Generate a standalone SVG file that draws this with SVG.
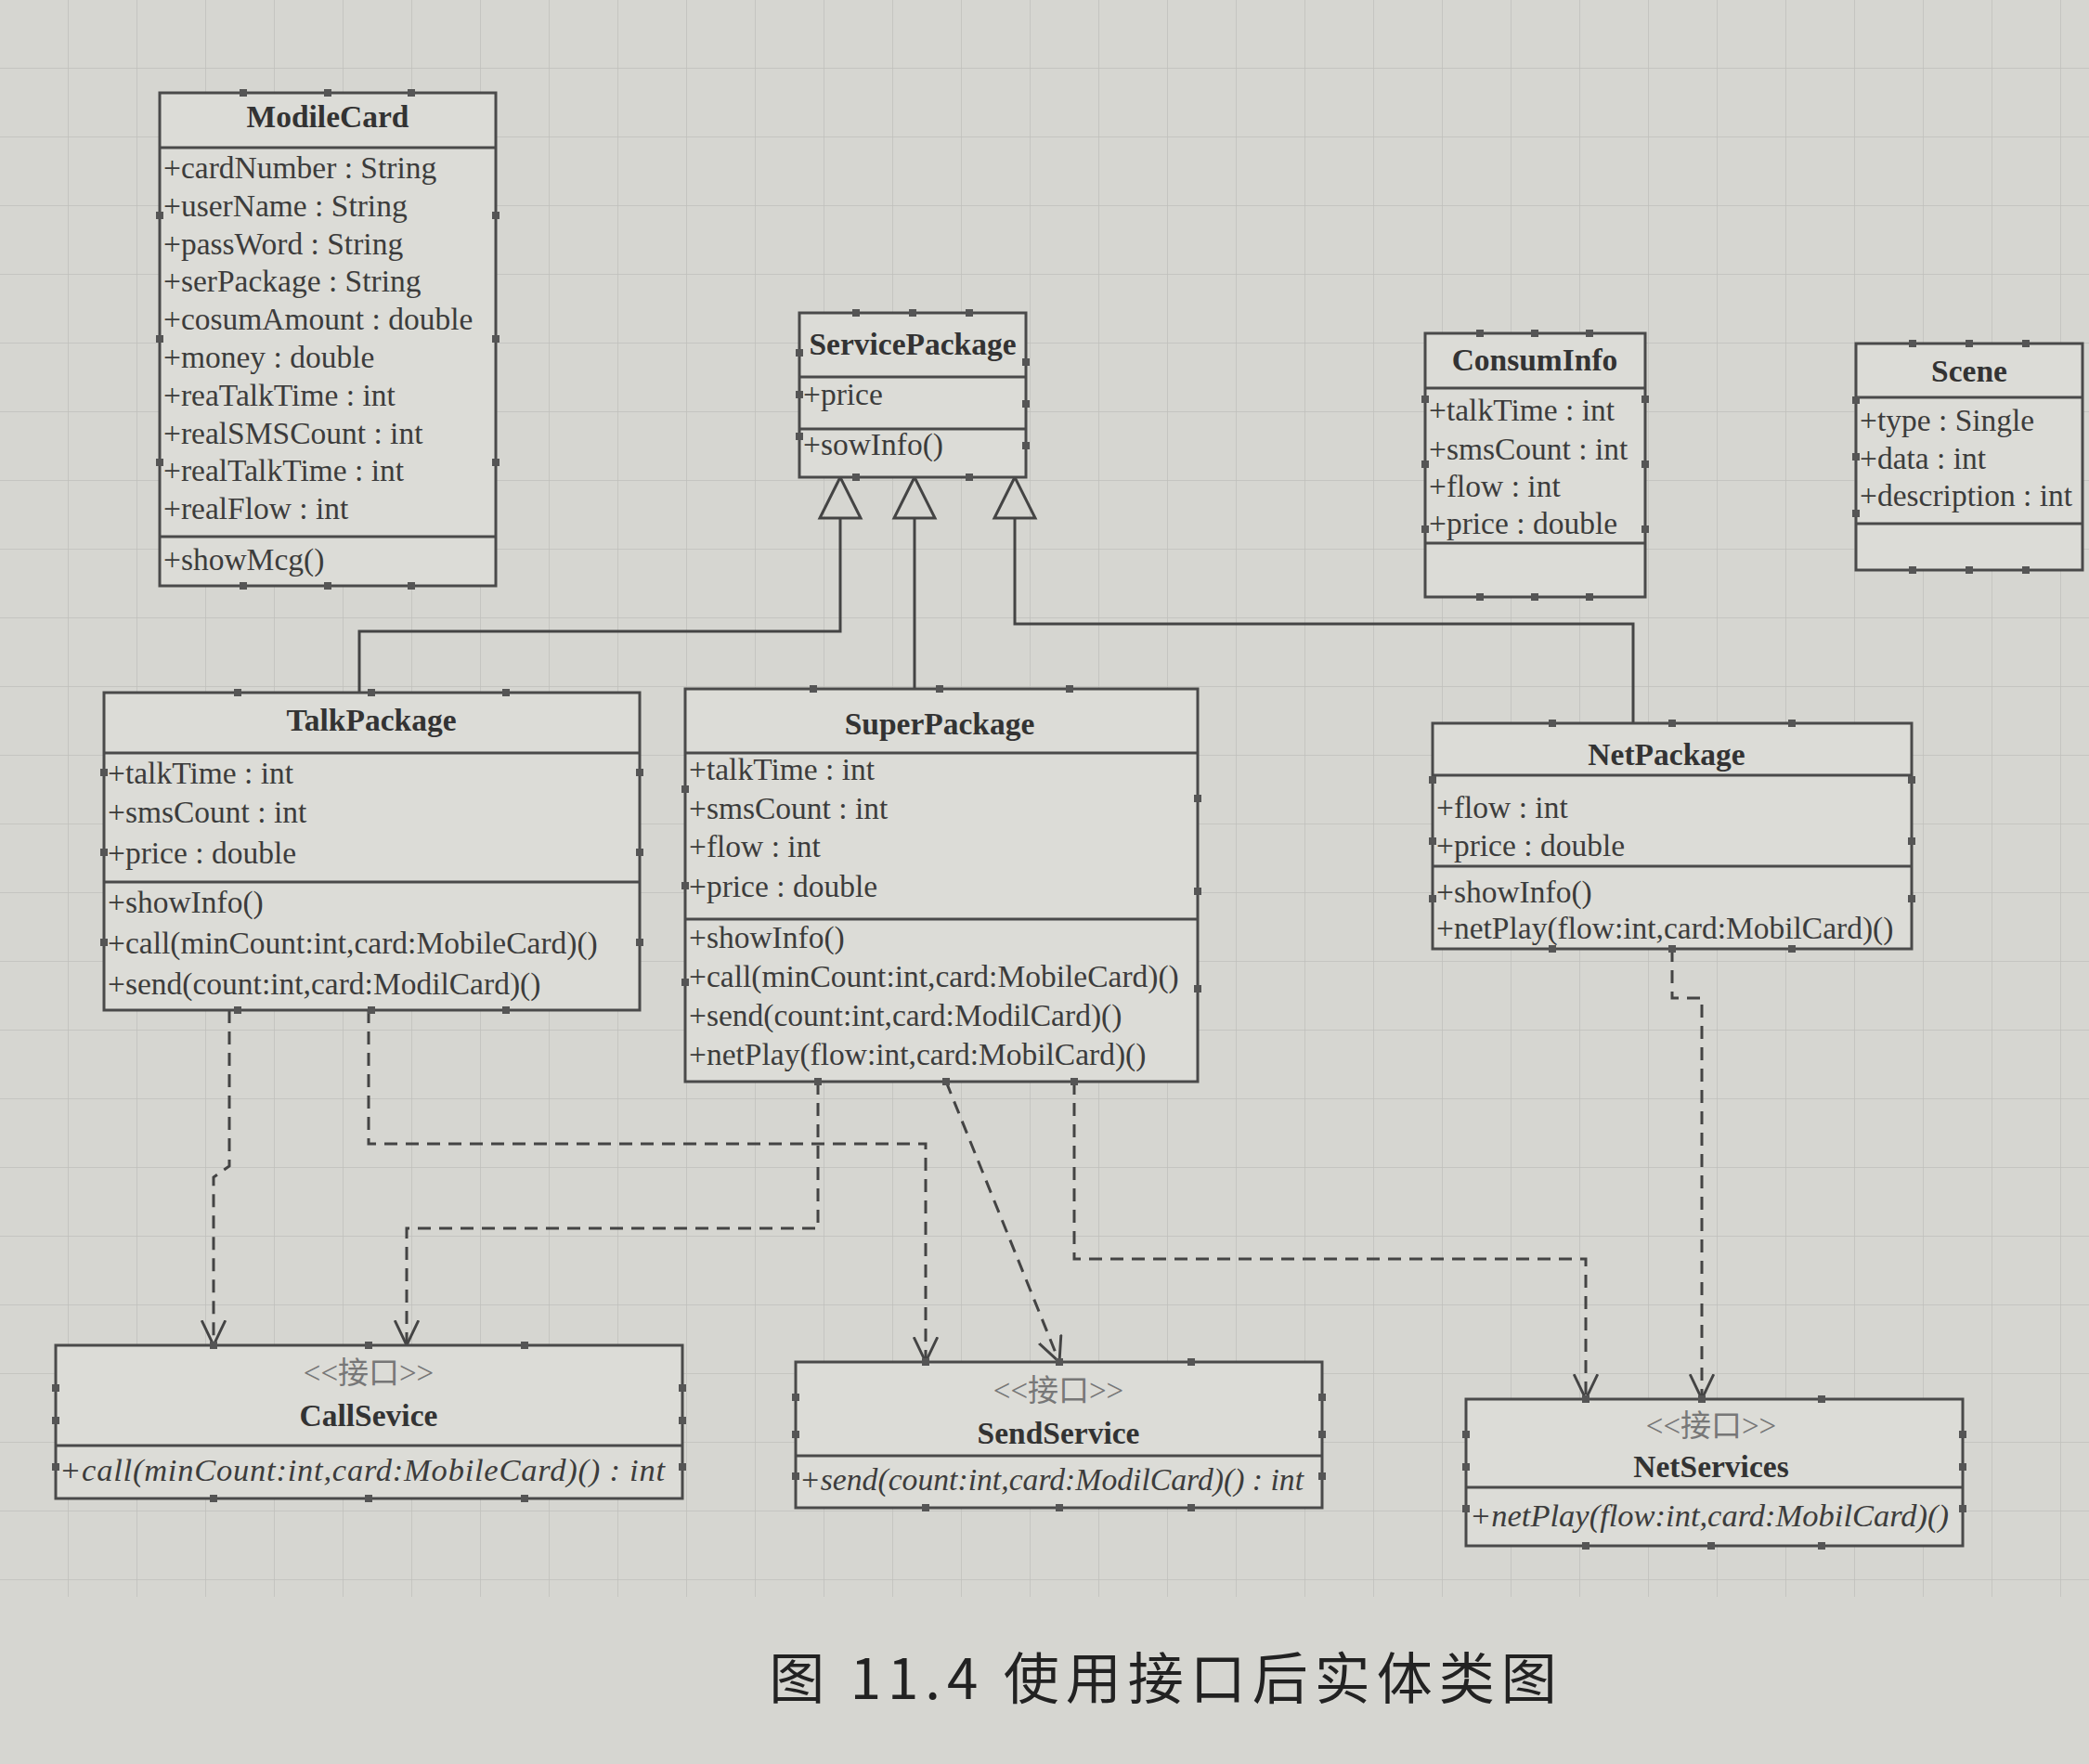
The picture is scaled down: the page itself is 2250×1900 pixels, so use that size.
<svg xmlns="http://www.w3.org/2000/svg" xmlns:xlink="http://www.w3.org/1999/xlink" width="2250" height="1900" viewBox="0 0 2250 1900">
<style>
.box{fill:#dcdcd7;stroke:#4a4a4a;stroke-width:3}
.sep{stroke:#4a4a4a;stroke-width:3}
.t{font-family:"Liberation Serif","Times New Roman",serif;font-size:33.5px;fill:#3c3c3c}
.b{font-family:"Liberation Serif","Times New Roman",serif;font-size:33.5px;font-weight:bold;fill:#333;text-anchor:middle}
.i{font-family:"Liberation Serif","Times New Roman",serif;font-size:34.5px;font-style:italic;fill:#3c3c3c}
.st{font-family:"Liberation Serif","Noto Sans CJK SC",serif;font-size:33px;fill:#777;text-anchor:middle}
.gen{fill:none;stroke:#444;stroke-width:3}
.dep{fill:none;stroke:#444;stroke-width:3;stroke-dasharray:14 9}
.cap{font-family:"Noto Sans CJK SC","Liberation Serif",serif;font-size:60px;letter-spacing:7px;fill:#222;text-anchor:middle}
</style>
<defs>
<pattern id="grid" width="74" height="74" patternUnits="userSpaceOnUse">
<path d="M74,0 V74 M0,74 H74" fill="none" stroke="#c0c0bb" stroke-width="1.5"/>
</pattern>
<marker id="open" viewBox="0 0 24 24" refX="23" refY="12" markerWidth="28" markerHeight="28" markerUnits="userSpaceOnUse" orient="auto">
<path d="M0,1 L23,12 L0,23" fill="none" stroke="#444" stroke-width="2.5"/>
</marker>
<rect id="h" x="-4" y="-4" width="8" height="8" fill="#555"/>
</defs>
<rect width="2250" height="1900" fill="#d6d6d1"/>
<rect width="2250" height="1720" fill="url(#grid)"/>

<g id="connectors">
<path class="gen" d="M905,558 V680 H387 V746"/>
<path class="gen" d="M985,558 V742"/>
<path class="gen" d="M1093,558 V672 H1759 V779"/>
<polygon class="gen" fill="#dcdcd7" points="905,514 883,558 927,558"/>
<polygon class="gen" fill="#dcdcd7" points="985,514 963,558 1007,558"/>
<polygon class="gen" fill="#dcdcd7" points="1093,514 1071,558 1115,558"/>
<path class="dep" d="M247,1088 V1256 L230,1268 V1449" marker-end="url(#open)"/>
<path class="dep" d="M397,1088 V1232 H997 V1467" marker-end="url(#open)"/>
<path class="dep" d="M881,1165 V1323 H438 V1449" marker-end="url(#open)"/>
<path class="dep" d="M1019,1165 L1141,1467" marker-end="url(#open)"/>
<path class="dep" d="M1157,1165 V1356 H1708 V1507" marker-end="url(#open)"/>
<path class="dep" d="M1801,1022 V1075 H1833 V1507" marker-end="url(#open)"/>
</g>

<g id="ModileCard">
<rect class="box" x="172" y="100" width="362" height="531"/>
<line class="sep" x1="172" y1="159" x2="534" y2="159"/>
<line class="sep" x1="172" y1="578" x2="534" y2="578"/>
<text class="b" x="353" y="137">ModileCard</text>
<text class="t" x="176" y="192">+cardNumber : String</text>
<text class="t" x="176" y="233">+userName : String</text>
<text class="t" x="176" y="274">+passWord : String</text>
<text class="t" x="176" y="314">+serPackage : String</text>
<text class="t" x="176" y="355">+cosumAmount : double</text>
<text class="t" x="176" y="396">+money : double</text>
<text class="t" x="176" y="437">+reaTalkTime : int</text>
<text class="t" x="176" y="478">+realSMSCount : int</text>
<text class="t" x="176" y="518">+realTalkTime : int</text>
<text class="t" x="176" y="559">+realFlow : int</text>
<text class="t" x="176" y="614">+showMcg()</text>
<use href="#h" x="262" y="100"/><use href="#h" x="353" y="100"/><use href="#h" x="443" y="100"/>
<use href="#h" x="262" y="631"/><use href="#h" x="353" y="631"/><use href="#h" x="443" y="631"/>
<use href="#h" x="172" y="232"/><use href="#h" x="172" y="365"/><use href="#h" x="172" y="498"/>
<use href="#h" x="534" y="232"/><use href="#h" x="534" y="365"/><use href="#h" x="534" y="498"/>
</g>

<g id="ServicePackage">
<rect class="box" x="861" y="337" width="244" height="177"/>
<line class="sep" x1="861" y1="406" x2="1105" y2="406"/>
<line class="sep" x1="861" y1="462" x2="1105" y2="462"/>
<text class="b" x="983" y="382">ServicePackage</text>
<text class="t" x="865" y="436">+price</text>
<text class="t" x="865" y="490">+sowInfo()</text>
<use href="#h" x="922" y="337"/><use href="#h" x="983" y="337"/><use href="#h" x="1044" y="337"/>
<use href="#h" x="922" y="514"/><use href="#h" x="1044" y="514"/>
<use href="#h" x="861" y="380"/><use href="#h" x="861" y="425"/><use href="#h" x="861" y="470"/>
<use href="#h" x="1105" y="390"/><use href="#h" x="1105" y="435"/><use href="#h" x="1105" y="480"/>
</g>

<g id="ConsumInfo">
<rect class="box" x="1535" y="359" width="237" height="284"/>
<line class="sep" x1="1535" y1="418" x2="1772" y2="418"/>
<line class="sep" x1="1535" y1="585" x2="1772" y2="585"/>
<text class="b" x="1653" y="399">ConsumInfo</text>
<text class="t" x="1539" y="453">+talkTime : int</text>
<text class="t" x="1539" y="495">+smsCount : int</text>
<text class="t" x="1539" y="535">+flow : int</text>
<text class="t" x="1539" y="575">+price : double</text>
<use href="#h" x="1594" y="359"/><use href="#h" x="1653" y="359"/><use href="#h" x="1712" y="359"/>
<use href="#h" x="1594" y="643"/><use href="#h" x="1653" y="643"/><use href="#h" x="1712" y="643"/>
<use href="#h" x="1535" y="430"/><use href="#h" x="1535" y="500"/><use href="#h" x="1535" y="570"/>
<use href="#h" x="1772" y="430"/><use href="#h" x="1772" y="500"/><use href="#h" x="1772" y="570"/>
</g>

<g id="Scene">
<rect class="box" x="1999" y="370" width="244" height="244"/>
<line class="sep" x1="1999" y1="428" x2="2243" y2="428"/>
<line class="sep" x1="1999" y1="564" x2="2243" y2="564"/>
<text class="b" x="2121" y="411">Scene</text>
<text class="t" x="2003" y="464">+type : Single</text>
<text class="t" x="2003" y="505">+data : int</text>
<text class="t" x="2003" y="545">+description : int</text>
<use href="#h" x="2060" y="370"/><use href="#h" x="2121" y="370"/><use href="#h" x="2182" y="370"/>
<use href="#h" x="2060" y="614"/><use href="#h" x="2121" y="614"/><use href="#h" x="2182" y="614"/>
<use href="#h" x="1999" y="431"/><use href="#h" x="1999" y="492"/><use href="#h" x="1999" y="553"/>
</g>

<g id="TalkPackage">
<rect class="box" x="112" y="746" width="577" height="342"/>
<line class="sep" x1="112" y1="811" x2="689" y2="811"/>
<line class="sep" x1="112" y1="950" x2="689" y2="950"/>
<text class="b" x="400" y="787">TalkPackage</text>
<text class="t" x="116" y="844">+talkTime : int</text>
<text class="t" x="116" y="886">+smsCount : int</text>
<text class="t" x="116" y="930">+price : double</text>
<text class="t" x="116" y="983">+showInfo()</text>
<text class="t" x="116" y="1027">+call(minCount:int,card:MobileCard)()</text>
<text class="t" x="116" y="1071">+send(count:int,card:ModilCard)()</text>
<use href="#h" x="256" y="746"/><use href="#h" x="400" y="746"/><use href="#h" x="545" y="746"/>
<use href="#h" x="256" y="1088"/><use href="#h" x="400" y="1088"/><use href="#h" x="545" y="1088"/>
<use href="#h" x="112" y="832"/><use href="#h" x="112" y="918"/><use href="#h" x="112" y="1015"/>
<use href="#h" x="689" y="832"/><use href="#h" x="689" y="918"/><use href="#h" x="689" y="1015"/>
</g>

<g id="SuperPackage">
<rect class="box" x="738" y="742" width="552" height="423"/>
<line class="sep" x1="738" y1="811" x2="1290" y2="811"/>
<line class="sep" x1="738" y1="990" x2="1290" y2="990"/>
<text class="b" x="1012" y="791">SuperPackage</text>
<text class="t" x="742" y="840">+talkTime : int</text>
<text class="t" x="742" y="882">+smsCount : int</text>
<text class="t" x="742" y="923">+flow : int</text>
<text class="t" x="742" y="966">+price : double</text>
<text class="t" x="742" y="1021">+showInfo()</text>
<text class="t" x="742" y="1063">+call(minCount:int,card:MobileCard)()</text>
<text class="t" x="742" y="1105">+send(count:int,card:ModilCard)()</text>
<text class="t" x="742" y="1147">+netPlay(flow:int,card:MobilCard)()</text>
<use href="#h" x="876" y="742"/><use href="#h" x="1012" y="742"/><use href="#h" x="1152" y="742"/>
<use href="#h" x="881" y="1165"/><use href="#h" x="1019" y="1165"/><use href="#h" x="1157" y="1165"/>
<use href="#h" x="738" y="850"/><use href="#h" x="738" y="954"/><use href="#h" x="738" y="1058"/>
<use href="#h" x="1290" y="860"/><use href="#h" x="1290" y="960"/><use href="#h" x="1290" y="1065"/>
</g>

<g id="NetPackage">
<rect class="box" x="1543" y="779" width="516" height="243"/>
<line class="sep" x1="1543" y1="835" x2="2059" y2="835"/>
<line class="sep" x1="1543" y1="933" x2="2059" y2="933"/>
<text class="b" x="1795" y="824">NetPackage</text>
<text class="t" x="1547" y="881">+flow : int</text>
<text class="t" x="1547" y="922">+price : double</text>
<text class="t" x="1547" y="972">+showInfo()</text>
<text class="t" x="1547" y="1011">+netPlay(flow:int,card:MobilCard)()</text>
<use href="#h" x="1672" y="779"/><use href="#h" x="1801" y="779"/><use href="#h" x="1930" y="779"/>
<use href="#h" x="1672" y="1022"/><use href="#h" x="1801" y="1022"/><use href="#h" x="1930" y="1022"/>
<use href="#h" x="1543" y="840"/><use href="#h" x="1543" y="906"/><use href="#h" x="1543" y="968"/>
<use href="#h" x="2059" y="840"/><use href="#h" x="2059" y="906"/><use href="#h" x="2059" y="968"/>
</g>

<g id="CallSevice">
<rect class="box" x="60" y="1449" width="675" height="165"/>
<line class="sep" x1="60" y1="1557" x2="735" y2="1557"/>
<text class="st" x="397" y="1490">&lt;&lt;接口&gt;&gt;</text>
<text class="b" x="397" y="1536">CallSevice</text>
<text class="i" x="64" y="1595" textLength="652" lengthAdjust="spacing">+call(minCount:int,card:MobileCard)() : int</text>
<use href="#h" x="230" y="1449"/><use href="#h" x="397" y="1449"/><use href="#h" x="565" y="1449"/>
<use href="#h" x="230" y="1614"/><use href="#h" x="397" y="1614"/><use href="#h" x="565" y="1614"/>
<use href="#h" x="60" y="1495"/><use href="#h" x="60" y="1530"/><use href="#h" x="60" y="1580"/>
<use href="#h" x="735" y="1495"/><use href="#h" x="735" y="1530"/><use href="#h" x="735" y="1580"/>
</g>

<g id="SendService">
<rect class="box" x="857" y="1467" width="567" height="157"/>
<line class="sep" x1="857" y1="1568" x2="1424" y2="1568"/>
<text class="st" x="1140" y="1509">&lt;&lt;接口&gt;&gt;</text>
<text class="b" x="1140" y="1555">SendService</text>
<text class="i" x="861" y="1605" textLength="543" lengthAdjust="spacingAndGlyphs">+send(count:int,card:ModilCard)() : int</text>
<use href="#h" x="997" y="1467"/><use href="#h" x="1141" y="1467"/><use href="#h" x="1283" y="1467"/>
<use href="#h" x="997" y="1624"/><use href="#h" x="1141" y="1624"/><use href="#h" x="1283" y="1624"/>
<use href="#h" x="857" y="1505"/><use href="#h" x="857" y="1545"/><use href="#h" x="857" y="1590"/>
<use href="#h" x="1424" y="1505"/><use href="#h" x="1424" y="1545"/><use href="#h" x="1424" y="1590"/>
</g>

<g id="NetServices">
<rect class="box" x="1579" y="1507" width="535" height="158"/>
<line class="sep" x1="1579" y1="1602" x2="2114" y2="1602"/>
<text class="st" x="1843" y="1547">&lt;&lt;接口&gt;&gt;</text>
<text class="b" x="1843" y="1591">NetServices</text>
<text class="i" x="1583" y="1644">+netPlay(flow:int,card:MobilCard)()</text>
<use href="#h" x="1708" y="1507"/><use href="#h" x="1833" y="1507"/><use href="#h" x="1962" y="1507"/>
<use href="#h" x="1708" y="1665"/><use href="#h" x="1843" y="1665"/><use href="#h" x="1962" y="1665"/>
<use href="#h" x="1579" y="1545"/><use href="#h" x="1579" y="1580"/><use href="#h" x="1579" y="1625"/>
<use href="#h" x="2114" y="1545"/><use href="#h" x="2114" y="1580"/><use href="#h" x="2114" y="1625"/>
</g>

<text class="cap" x="1256" y="1830">图 11.4 使用接口后实体类图</text>
</svg>
